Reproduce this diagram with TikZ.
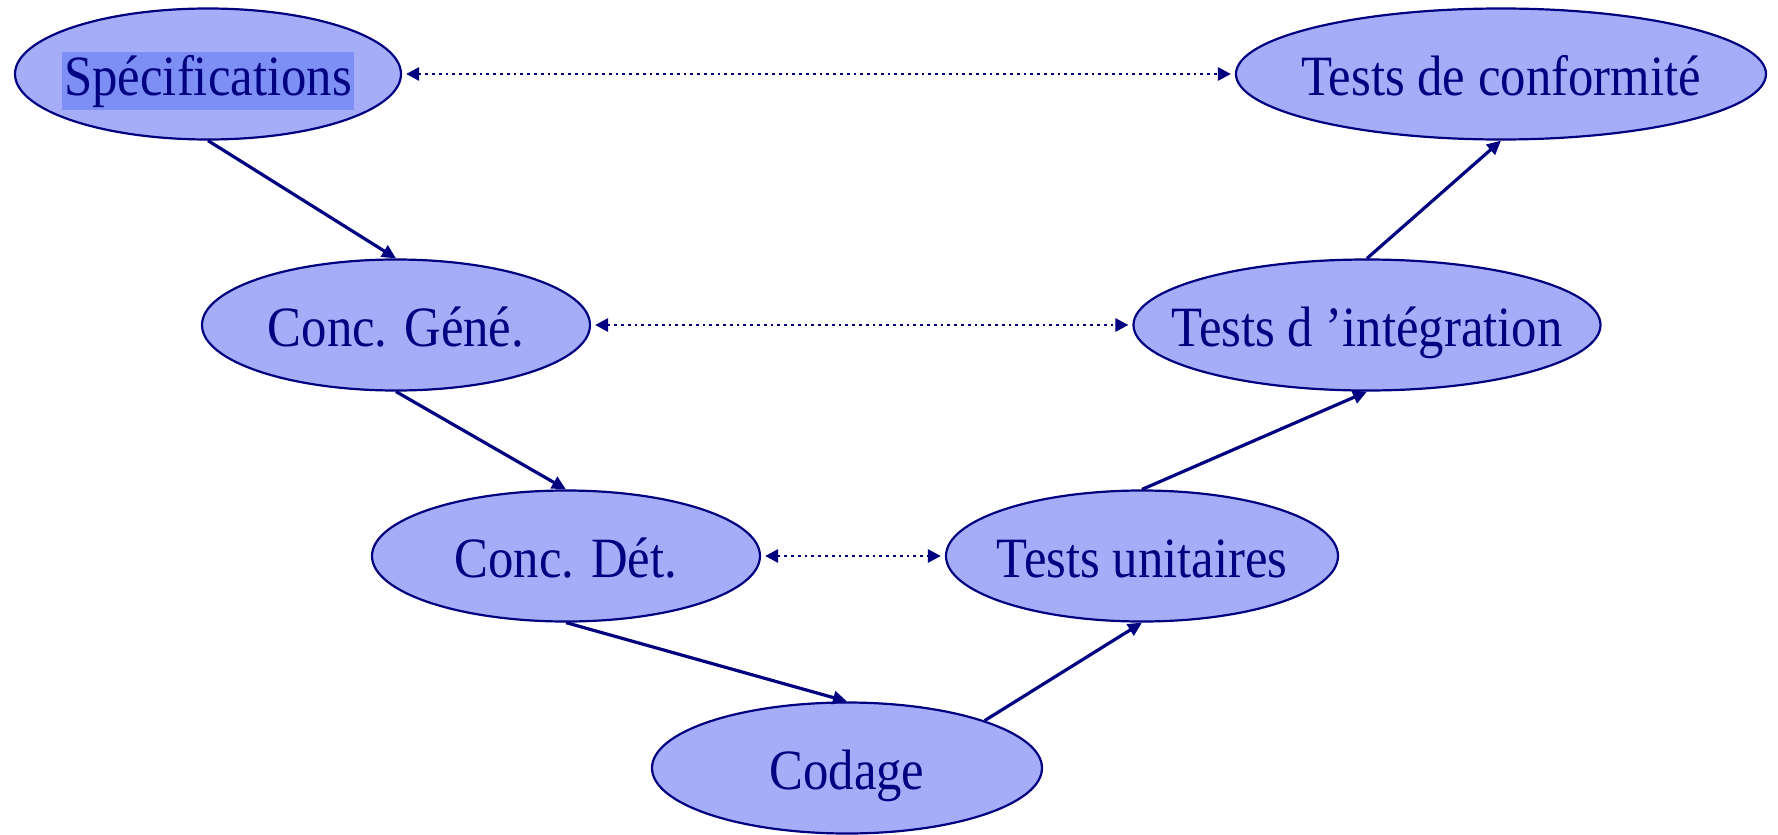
\documentclass[tikz,border=0pt]{standalone}
\usepackage{fontspec}
\setmainfont{Liberation Serif}
\usetikzlibrary{shapes.geometric,arrows.meta}
\definecolor{navy}{RGB}{0,0,128}
\definecolor{ellfill}{RGB}{166,173,248}
\definecolor{hilite}{RGB}{125,143,245}
\newcommand{\narrow}[1]{\scalebox{0.89}[1]{#1}}
\newcommand{\lbl}[1]{\makebox[0pt]{\raisebox{-10.5pt}[0pt][0pt]{#1}}}
\begin{document}
\begin{tikzpicture}[x=0.5pt,y=-0.5pt,
  phase/.style={ellipse, draw=navy, line width=1.1pt, fill=ellfill, inner sep=0pt,
    minimum height=65.5pt, text=navy, font=\fontsize{28.5pt}{32pt}\selectfont},
  flow/.style={draw=navy, line width=1.6pt, -{Triangle[length=7pt,width=6.5pt]}},
  trace/.style={draw=navy, line width=1.4pt, dotted,
    {Triangle[length=6.5pt,width=6.5pt]}-{Triangle[length=6.5pt,width=6.5pt]},
    shorten <=2pt, shorten >=2pt}]
\useasboundingbox (0,0) rectangle (1778,835);
\node[phase, minimum width=193pt] (spec) at (208,74)
  {\lbl{\fboxsep=1.2pt\colorbox{hilite}{\narrow{Spécifications}}}};
\node[phase, minimum width=265pt] (conf) at (1501,74) {\lbl{\narrow{Tests de conformité}}};
\node[phase, minimum width=194pt] (cg) at (396,325) {\lbl{\narrow{Conc. Géné.}}};
\node[phase, minimum width=233.5pt] (integ) at (1367,325) {\lbl{\narrow{Tests d ’intégration}}};
\node[phase, minimum width=194pt] (cd) at (566,556) {\lbl{\narrow{Conc. Dét.}}};
\node[phase, minimum width=196pt] (unit) at (1142,556) {\lbl{\narrow{Tests unitaires}}};
\node[phase, minimum width=195pt] (cod) at (847,768) {\lbl{\narrow{Codage}}};
\draw[flow] (spec.south) -- (cg.north);
\draw[flow] (cg.south) -- (cd.north);
\draw[flow] (cd.south) -- (cod.north);
\draw[flow] (cod.19) -- (unit.south);
\draw[flow] (unit.north) -- (integ.south);
\draw[flow] (integ.north) -- (conf.south);
\draw[trace] (spec.east) -- (conf.west);
\draw[trace] (cg.east) -- (integ.west);
\draw[trace] (cd.east) -- (unit.west);
\end{tikzpicture}
\end{document}
